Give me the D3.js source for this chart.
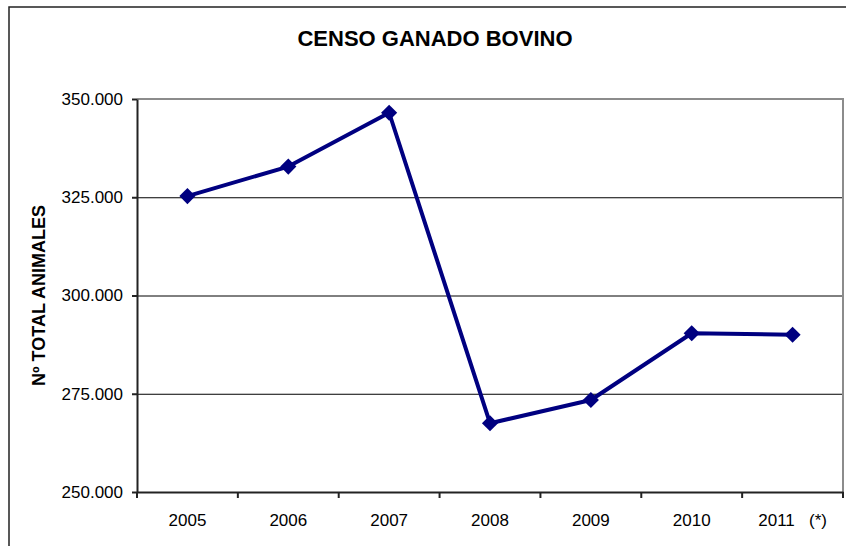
<!DOCTYPE html>
<html>
<head>
<meta charset="utf-8">
<script src="https://cdn.jsdelivr.net/npm/d3@7"></script>
<style>
  body { margin: 0; background: #fff; }
  svg { display: block; font-family: "Liberation Sans", Arial, sans-serif; }
  .tick text { font-size: 17px; fill: #000; }
  .title { font-size: 22px; font-weight: bold; }
  .axis-label { font-size: 18px; font-weight: bold; }
</style>
</head>
<body>
<svg width="846" height="546"></svg>
<script>
const years = ['2005', '2006', '2007', '2008', '2009', '2010', '2011'];
const yearLabels = ['2005', '2006', '2007', '2008', '2009', '2010', '2011   (*)'];
const animals = [325300, 332800, 346500, 267500, 273400, 290400, 290000];
const yTicks = [250000, 275000, 300000, 325000, 350000];

const svg = d3.select('svg');
const width = +svg.attr('width');
const height = +svg.attr('height');

const locale = d3.formatLocale({decimal: ',', thousands: '.', grouping: [3], currency: ['', '']});
const fmt = locale.format(',.0f');

const data = years.map((y, i) => ({year: y, value: animals[i]}));

const render = data => {
	const margin = {top: 99, right: 3, bottom: 54, left: 137};
	const innerWidth = width - margin.left - margin.right;
	const innerHeight = height - margin.top - margin.bottom;

	// outer chart border, runs off the right and bottom edges
	svg.append('rect')
		.attr('x', 9)
		.attr('y', 7)
		.attr('width', width + 20)
		.attr('height', height + 20)
		.attr('fill', 'none')
		.attr('stroke', '#222')
		.attr('stroke-width', 1.5);

	const xScale = d3.scaleBand()
		.domain(years)
		.range([0, innerWidth]);

	const yScale = d3.scaleLinear()
		.domain([yTicks[0], yTicks[yTicks.length - 1]])
		.range([innerHeight, 0]);

	const g = svg.append('g')
		.attr('transform', `translate(${margin.left}, ${margin.top})`);

	// gridlines
	g.selectAll('.grid').data(yTicks.slice(1, -1))
		.enter().append('line')
			.attr('class', 'grid')
			.attr('x1', 0)
			.attr('x2', innerWidth)
			.attr('y1', d => yScale(d) + 0.5)
			.attr('y2', d => yScale(d) + 0.5)
			.attr('stroke', '#000')
			.attr('stroke-width', 1);

	// top and right edges of the plot area
	g.append('path')
		.attr('d', `M0,${yScale(yTicks[yTicks.length - 1])}H${innerWidth}V${innerHeight}`)
		.attr('fill', 'none')
		.attr('stroke', '#8c8c8c')
		.attr('stroke-width', 2);

	const yAxis = d3.axisLeft(yScale)
		.tickValues(yTicks)
		.tickFormat(fmt)
		.tickSize(5)
		.tickSizeOuter(0)
		.tickPadding(9);

	const yAxisG = g.append('g').call(yAxis);
	yAxisG.selectAll('line, .domain')
		.attr('stroke', '#222')
		.attr('stroke-width', 2);
	yAxisG.selectAll('text').attr('font-size', null).attr('font-family', null);
	yAxisG.attr('font-size', null).attr('font-family', null);

	yAxisG.append('text')
		.attr('class', 'axis-label')
		.attr('y', 45 - margin.left)
		.attr('x', -innerHeight / 2)
		.attr('fill', 'black')
		.attr('transform', 'rotate(-90)')
		.attr('text-anchor', 'middle')
		.text('Nº TOTAL ANIMALES');

	const xAxis = d3.axisBottom(xScale)
		.tickSize(0)
		.tickSizeOuter(0)
		.tickPadding(22)
		.tickFormat((d, i) => yearLabels[i]);

	const xAxisG = g.append('g').call(xAxis)
		.attr('transform', `translate(0, ${innerHeight})`)
		.attr('font-size', null)
		.attr('font-family', null);
	xAxisG.select('.domain')
		.attr('stroke', '#222')
		.attr('stroke-width', 2);
	xAxisG.selectAll('text').style('white-space', 'pre');

	// tick marks between categories
	xAxisG.selectAll('.sep').data(d3.range(years.length + 1))
		.enter().append('line')
			.attr('class', 'sep')
			.attr('x1', i => xScale.range()[0] + i * xScale.step())
			.attr('x2', i => xScale.range()[0] + i * xScale.step())
			.attr('y1', 0)
			.attr('y2', 6)
			.attr('stroke', '#222')
			.attr('stroke-width', 2);

	const xCenter = d => xScale(d.year) + xScale.bandwidth() / 2;

	const line = d3.line()
		.x(xCenter)
		.y(d => yScale(d.value));

	g.append('path')
		.datum(data)
		.attr('d', line)
		.attr('fill', 'none')
		.attr('stroke', '#000080')
		.attr('stroke-width', 4)
		.attr('stroke-linejoin', 'round');

	const diamond = d3.symbol().type(d3.symbolSquare).size(130);

	g.selectAll('.marker').data(data)
		.enter().append('path')
			.attr('class', 'marker')
			.attr('d', diamond)
			.attr('transform', d => `translate(${xCenter(d)}, ${yScale(d.value)}) rotate(45)`)
			.attr('fill', '#000080');

	svg.append('text')
		.attr('class', 'title')
		.attr('x', 435)
		.attr('y', 46)
		.attr('text-anchor', 'middle')
		.text('CENSO GANADO BOVINO');
};

render(data);
</script>
</body>
</html>
